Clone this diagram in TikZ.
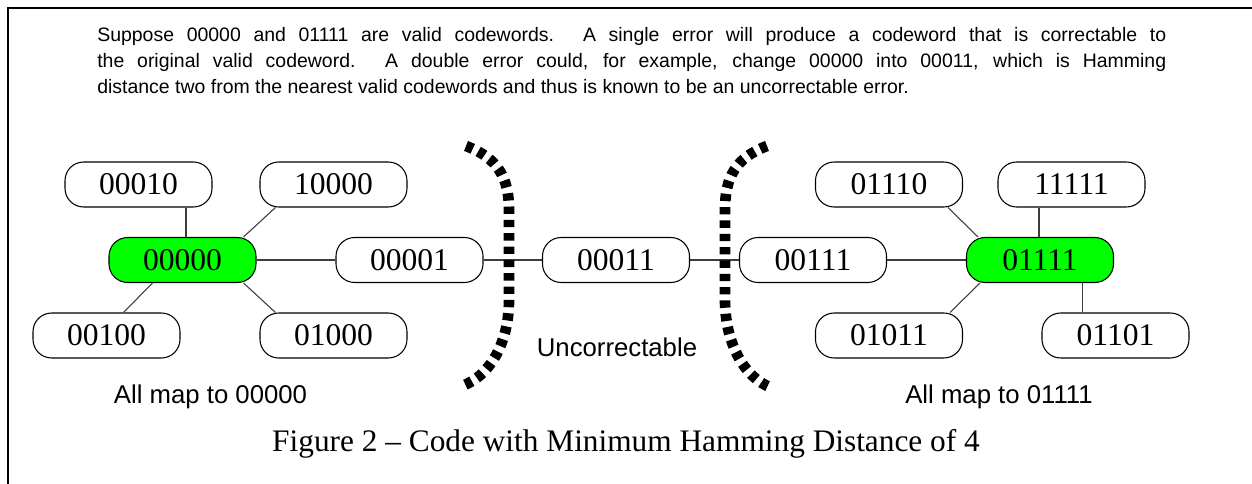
\documentclass[tikz,border=0pt]{standalone}
\usepackage{fontspec}
\setmainfont{Liberation Serif}
\newfontfamily\arialfont{Liberation Sans}
\usetikzlibrary{calc}
\definecolor{codegreen}{RGB}{0,255,0}
\definecolor{connGray}{RGB}{60,60,60}
\begin{document}
\begin{tikzpicture}[x=0.75pt,y=-0.75pt,
  cw/.style={draw=black, line width=0.8pt, rounded corners=14pt, minimum width=110.25pt, minimum height=33.75pt, inner sep=0pt, font=\fontsize{23.7}{28}\selectfont},
  valid/.style={cw, fill=codegreen},
  conn/.style={draw=connGray, line width=0.8pt},
  barrier/.style={line width=8pt, dash pattern=on 5.5pt off 4.5pt},
  lbl/.style={font=\arialfont\fontsize{19.3}{23}\selectfont, inner sep=0pt, anchor=base},
  para/.style={font=\arialfont\fontsize{14.6}{19.5}\selectfont, inner sep=0pt, anchor=base west},
  caption/.style={font=\fontsize{23.5}{28}\selectfont, inner sep=0pt, anchor=base}
]
\useasboundingbox (0,0) rectangle (1252,484);
% frame
\draw[line width=1.9pt] (7.8,484) -- (7.8,7.8) -- (1252,7.8);

% paragraph
\node[para] (p1) at (97,41.5) {\makebox[801.75pt][s]{Suppose 00000 and 01111 are valid codewords.  A single error will produce a codeword that is correctable to}};
\node[para] (p2) at (97,67.8) {\makebox[801.75pt][s]{the original valid codeword.  A double error could, for example, change 00000 into 00011, which is Hamming}};
\node[para] (p3) at (97,94) {distance two from the nearest valid codewords and thus is known to be an uncorrectable error.};

% codeword nodes
\node[cw] (n00010) at (138.5,184.5) {00010};
\node[cw] (n10000) at (333.5,184.5) {10000};
\node[valid] (n00000) at (182.5,260) {00000};
\node[cw] (n00001) at (409.5,260) {00001};
\node[cw] (n00100) at (106.5,335.5) {00100};
\node[cw] (n01000) at (333.5,335.5) {01000};
\node[cw] (n00011) at (616,260) {00011};
\node[cw] (n00111) at (813,260) {00111};
\node[valid] (n01111) at (1040,260) {01111};
\node[cw] (n01110) at (889,184.5) {01110};
\node[cw] (n11111) at (1071.5,184.5) {11111};
\node[cw] (n01011) at (889,335.5) {01011};
\node[cw] (n01101) at (1115.5,335.5) {01101};

% connectors
\coordinate (c1) at ($(n00000.north)+(3.5,0)$);
\draw[conn] (c1) -- (c1 |- n00010.south);
\draw[conn] ($(n10000.south west)+(16,0)$) -- ($(n00000.north east)+(-13,0)$);
\draw[conn] (n00000.east) -- (n00001.west);
\draw[conn] ($(n00000.south west)+(44,0)$) -- ($(n00100.north east)+(-57,0)$);
\draw[conn] ($(n00000.south east)+(-13,0)$) -- ($(n01000.north west)+(16,0)$);
\draw[conn] (n00001.east) -- (n00011.west);
\draw[conn] (n00011.east) -- (n00111.west);
\draw[conn] (n00111.east) -- (n01111.west);
\draw[conn] ($(n01110.south east)+(-15,0)$) -- ($(n01111.north west)+(12,0)$);
\coordinate (c2) at ($(n01111.north)+(-1,0)$);
\draw[conn] (c2) -- (c2 |- n11111.south);
\draw[conn] ($(n01011.north east)+(-13,0)$) -- ($(n01111.south west)+(14,0)$);
\coordinate (c3) at ($(n01111.south east)+(-32,0)$);
\draw[conn] (c3) -- (c3 |- n01101.north);

% barriers
\draw[barrier] (466,146) .. controls (498,158) and (509,178) .. (509,210) -- (509,300) .. controls (509,340) and (492,375) .. (462,386);
\draw[barrier] (767,146) .. controls (735,158) and (725,178) .. (725,210) -- (725,300) .. controls (725,340) and (742,377) .. (772,388);

% labels
\node[lbl] (unc) at (617,357) {Uncorrectable};
\node[lbl] (map0) at (210.5,403) {All map to 00000};
\node[lbl] (map1) at (999,403) {All map to 01111};
\node[caption] (cap) at (626,451) {Figure 2 – Code with Minimum Hamming Distance of 4};
\end{tikzpicture}
\end{document}
